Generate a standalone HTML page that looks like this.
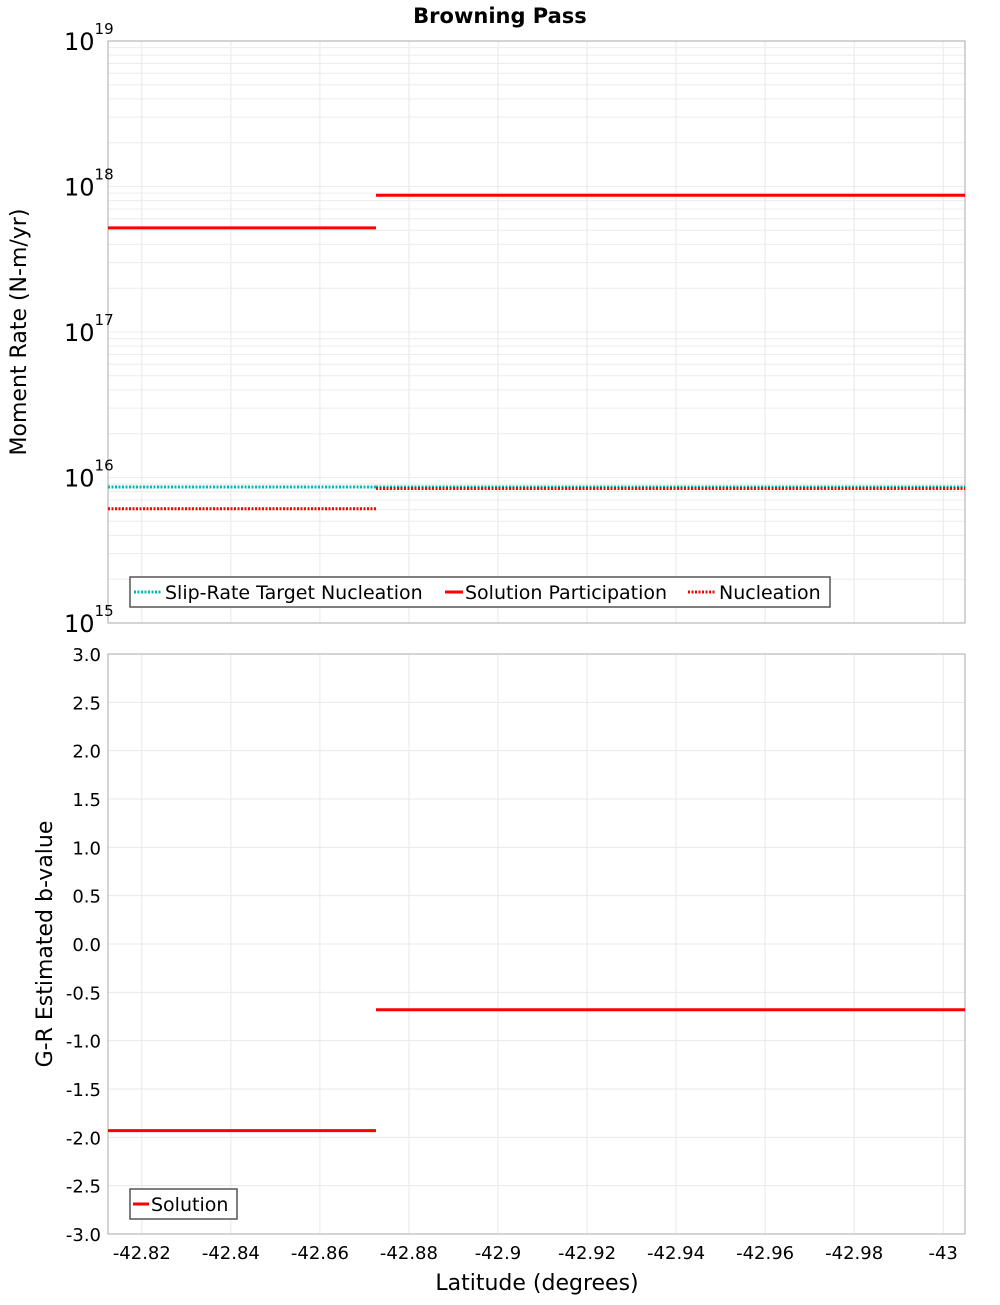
<!DOCTYPE html>
<html><head><meta charset="utf-8"><style>
body{margin:0;background:#fff}
svg text{font-family:"DejaVu Sans","Liberation Sans",sans-serif}
</style></head><body>
<svg id="chart" width="1000" height="1300" xmlns="http://www.w3.org/2000/svg">
<text x="500" y="23" text-anchor="middle" font-size="21" font-weight="bold" font-family="DejaVu Sans, sans-serif">Browning Pass</text>
<g id="topPlot"></g><g id="botPlot"></g>
</svg>
<script>
const xTicks=[-42.82,-42.84,-42.86,-42.88,-42.9,-42.92,-42.94,-42.96,-42.98,-43];
const xTickLabels=["-42.82","-42.84","-42.86","-42.88","-42.9","-42.92","-42.94","-42.96","-42.98","-43"];
const segStart=[-42.8124,-42.8726];
const segEnd=[-42.8726,-43.0049];
const slipTarget=[8.6e15,8.6e15];
const solutionParticipation=[5.2e17,8.7e17];
const nucleation=[6.1e15,8.4e15];
const bValues=[-1.93,-0.68];
const bTicks=[3,2.5,2,1.5,1,0.5,0,-0.5,-1,-1.5,-2,-2.5,-3];
const logDecades=[15,16,17,18,19];

const NS="http://www.w3.org/2000/svg";
const L=108,R=965;
const xMin=-42.8124,xMax=-43.0049;
const X=v=>L+(v-xMin)/(xMax-xMin)*(R-L);
const T0=41,T1=623,B0=654,B1=1234;
const YT=v=>T1-(Math.log10(v)-15)/4*(T1-T0);
const YB=v=>B0+(3-v)/6*(B1-B0);
function mk(p,tag,a,txt){const e=document.createElementNS(NS,tag);for(const k in a)e.setAttribute(k,a[k]);if(txt!==undefined)e.textContent=txt;p.appendChild(e);return e;}
const topG=document.getElementById('topPlot'),botG=document.getElementById('botPlot');
mk(topG,'rect',{x:L,y:T0,width:R-L,height:T1-T0,fill:'#fff',stroke:'none'});
mk(botG,'rect',{x:L,y:B0,width:R-L,height:B1-B0,fill:'#fff',stroke:'none'});
xTicks.forEach(t=>{
 const x=X(t);
 mk(topG,'line',{x1:x,x2:x,y1:T0,y2:T1,stroke:'#e8e8e8'});
 mk(botG,'line',{x1:x,x2:x,y1:B0,y2:B1,stroke:'#e8e8e8'});
});
for(let d=15;d<19;d++)for(let m=1;m<10;m++){const y=YT(m*Math.pow(10,d));mk(topG,'line',{x1:L,x2:R,y1:y,y2:y,stroke:'#ececec'});}
bTicks.forEach(t=>{const y=YB(t);mk(botG,'line',{x1:L,x2:R,y1:y,y2:y,stroke:'#e8e8e8'});});
mk(topG,'rect',{x:L,y:T0,width:R-L,height:T1-T0,fill:'none',stroke:'#aaa'});
mk(botG,'rect',{x:L,y:B0,width:R-L,height:B1-B0,fill:'none',stroke:'#aaa'});
logDecades.forEach(d=>{
 const y=YT(Math.pow(10,d));
 const t=mk(topG,'text',{x:64,y:y+9,'font-size':24});
 
 
 t.textContent='10';
 mk(t,'tspan',{dy:-16,'font-size':15},String(d));
});
bTicks.forEach(v=>{
 const t=mk(botG,'text',{x:101,y:YB(v)+7,'text-anchor':'end','font-size':18},v.toFixed(1));
 
 
});
xTicks.forEach((v,i)=>{
 const t=mk(botG,'text',{x:X(v),y:1259,'text-anchor':'middle','font-size':18},xTickLabels[i]);
 
 
});
let a=mk(topG,'text',{transform:'translate(26,332) rotate(-90)','text-anchor':'middle','font-size':22},'Moment Rate (N-m/yr)');


a=mk(botG,'text',{transform:'translate(52,944) rotate(-90)','text-anchor':'middle','font-size':22},'G-R Estimated b-value');


a=mk(botG,'text',{x:537,y:1290,'text-anchor':'middle','font-size':22},'Latitude (degrees)');


function seg(p,arr,Y,col,dash,name){
 arr.forEach((v,i)=>{
  const l=mk(p,'line',{x1:X(segStart[i]),x2:X(segEnd[i]),y1:Y(v),y2:Y(v),stroke:col,'stroke-width':3});
  if(dash)l.setAttribute('stroke-dasharray','2,1.5');
  
  
 });
}
seg(topG,solutionParticipation,YT,'#ff0000',false,'solution-participation-line');
seg(topG,slipTarget,YT,'#00bbbb',true,'slip-rate-target-line');
seg(topG,nucleation,YT,'#ff0000',true,'nucleation-line');
seg(botG,bValues,YB,'#ff0000',false,'b-value-line');
let lg=mk(topG,'g',{});


mk(lg,'rect',{x:130,y:577,width:700,height:30,fill:'#fff',stroke:'#555','stroke-width':1.5});
mk(lg,'line',{x1:134,x2:162,y1:592,y2:592,stroke:'#00bbbb','stroke-width':3,'stroke-dasharray':'2,1.5'});
mk(lg,'text',{x:165,y:599,'font-size':19},'Slip-Rate Target Nucleation');
mk(lg,'line',{x1:445,x2:463,y1:592,y2:592,stroke:'#ff0000','stroke-width':3});
mk(lg,'text',{x:465,y:599,'font-size':19},'Solution Participation');
mk(lg,'line',{x1:688,x2:716,y1:592,y2:592,stroke:'#ff0000','stroke-width':3,'stroke-dasharray':'2,1.5'});
mk(lg,'text',{x:719,y:599,'font-size':19},'Nucleation');
lg=mk(botG,'g',{});


mk(lg,'rect',{x:130,y:1189,width:107,height:30,fill:'#fff',stroke:'#555','stroke-width':1.5});
mk(lg,'line',{x1:133,x2:149,y1:1204,y2:1204,stroke:'#ff0000','stroke-width':3});
mk(lg,'text',{x:151,y:1211,'font-size':19},'Solution');
</script>
</body></html>
